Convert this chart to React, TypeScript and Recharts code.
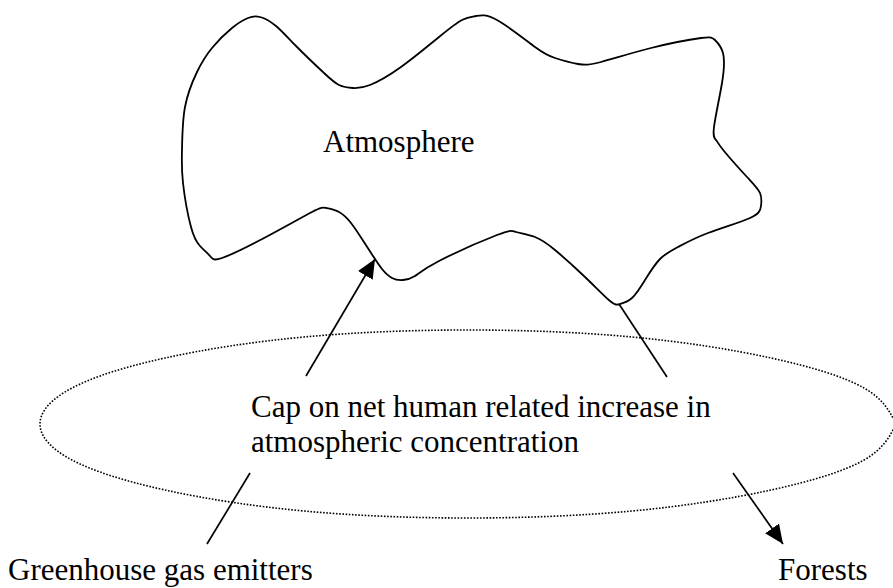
import { ComposedChart, Line, XAxis, YAxis, ReferenceDot } from 'recharts';

const W = 893;
const H = 588;
const FONT = '"Liberation Serif", "Times New Roman", serif';

// outline of the atmosphere cloud (page pixels)
const cloudOutline = [
  { x: 182, y: 150 }, { x: 185, y: 107 }, { x: 197, y: 72 }, { x: 212, y: 48 },
  { x: 232, y: 28 }, { x: 248, y: 18 }, { x: 260, y: 17 }, { x: 276, y: 26 },
  { x: 297, y: 47 }, { x: 324, y: 73 }, { x: 339, y: 85 }, { x: 353, y: 88 },
  { x: 370, y: 85 }, { x: 401, y: 67 }, { x: 439, y: 37 }, { x: 462, y: 20 },
  { x: 476, y: 16 }, { x: 497, y: 20 }, { x: 535, y: 47 }, { x: 555, y: 58 },
  { x: 578, y: 64 }, { x: 601, y: 62 }, { x: 651, y: 48 }, { x: 701, y: 38 },
  { x: 715, y: 40 }, { x: 723, y: 53 }, { x: 722, y: 83 }, { x: 714, y: 127 },
  { x: 716, y: 140 }, { x: 724, y: 151 }, { x: 747, y: 177 }, { x: 760, y: 193 },
  { x: 761, y: 206 }, { x: 750, y: 218 }, { x: 708, y: 233 }, { x: 678, y: 247 },
  { x: 660, y: 259 }, { x: 645, y: 280 }, { x: 632, y: 298 }, { x: 620, y: 304 },
  { x: 610, y: 301 }, { x: 585, y: 277 }, { x: 555, y: 250 }, { x: 535, y: 237 },
  { x: 516, y: 232 }, { x: 497, y: 235 }, { x: 439, y: 261 }, { x: 415, y: 276 },
  { x: 403, y: 280 }, { x: 392, y: 278 }, { x: 382, y: 269 }, { x: 373, y: 256 },
  { x: 362, y: 239 }, { x: 351, y: 223 }, { x: 339, y: 212 }, { x: 326, y: 208 },
  { x: 312, y: 212 }, { x: 266, y: 237 }, { x: 222, y: 258 }, { x: 210, y: 256 },
  { x: 200, y: 246 }, { x: 191, y: 227 }, { x: 183, y: 183 }, { x: 182, y: 150 },
];

// dotted "cap" boundary, read at points round the loop
const capBoundary = [
  { x: 896, y: 424 }, { x: 864, y: 460 }, { x: 771, y: 490 }, { x: 632, y: 511 },
  { x: 468, y: 518 }, { x: 304, y: 511 }, { x: 165, y: 490 }, { x: 72, y: 460 },
  { x: 40, y: 424 }, { x: 72, y: 388 }, { x: 165, y: 358 }, { x: 304, y: 337 },
  { x: 468, y: 330 }, { x: 632, y: 337 }, { x: 771, y: 358 }, { x: 864, y: 388 },
  { x: 896, y: 424 },
];

// connectors
const intoAtmosphere = [{ x: 306, y: 376 }, { x: 375, y: 259 }];
const outOfAtmosphere = [{ x: 619, y: 304 }, { x: 667, y: 377 }];
const fromEmitters = [{ x: 250, y: 473 }, { x: 207, y: 544 }];
const toForests = [{ x: 733, y: 473 }, { x: 783, y: 544 }];

// texts
const atmosphereLabel = 'Atmosphere';
const capLines = ['Cap on net human related increase in', 'atmospheric concentration'];
const emittersLabel = 'Greenhouse gas emitters';
const forestsLabel = 'Forests';

const textShape = (text: string) => (p: any) => (
  <text x={p.cx} y={p.cy} fontFamily={FONT} fontSize={31} fill="#000">
    {text}
  </text>
);

export default function App() {
  const lineProps = {
    dataKey: 'y',
    dot: false,
    activeDot: false,
    stroke: '#000',
    isAnimationActive: false,
  } as const;

  return (
    <div style={{ position: 'absolute', left: 0, top: 0, width: W, height: H, background: '#fff' }}>
      <ComposedChart width={W} height={H} margin={{ top: 0, right: 0, bottom: 0, left: 0 }}>
        <defs>
          <marker
            id="arrowHead"
            viewBox="0 0 19 17"
            refX={19}
            refY={8.5}
            markerWidth={19}
            markerHeight={17}
            markerUnits="userSpaceOnUse"
            orient="auto"
          >
            <path d="M0,0 L19,8.5 L0,17 z" fill="#000" />
          </marker>
        </defs>
        <XAxis type="number" dataKey="x" domain={[0, W]} hide allowDataOverflow />
        <YAxis type="number" domain={[0, H]} reversed hide allowDataOverflow />

        <Line {...lineProps} data={cloudOutline} type="natural" strokeWidth={1.8} />
        <Line
          {...lineProps}
          data={capBoundary}
          type="natural"
          strokeWidth={1.6}
          strokeDasharray="1.6 1.6"
        />
        <Line {...lineProps} data={intoAtmosphere} type="linear" strokeWidth={1.7} markerEnd="url(#arrowHead)" />
        <Line {...lineProps} data={outOfAtmosphere} type="linear" strokeWidth={1.7} />
        <Line {...lineProps} data={fromEmitters} type="linear" strokeWidth={1.7} />
        <Line {...lineProps} data={toForests} type="linear" strokeWidth={1.7} markerEnd="url(#arrowHead)" />

        <ReferenceDot x={323} y={152} r={0} ifOverflow="visible" shape={textShape(atmosphereLabel)} />
        <ReferenceDot x={251} y={417} r={0} ifOverflow="visible" shape={textShape(capLines[0])} />
        <ReferenceDot x={251} y={452} r={0} ifOverflow="visible" shape={textShape(capLines[1])} />
        <ReferenceDot x={8} y={580} r={0} ifOverflow="visible" shape={textShape(emittersLabel)} />
        <ReferenceDot x={778} y={580} r={0} ifOverflow="visible" shape={textShape(forestsLabel)} />
      </ComposedChart>
    </div>
  );
}
